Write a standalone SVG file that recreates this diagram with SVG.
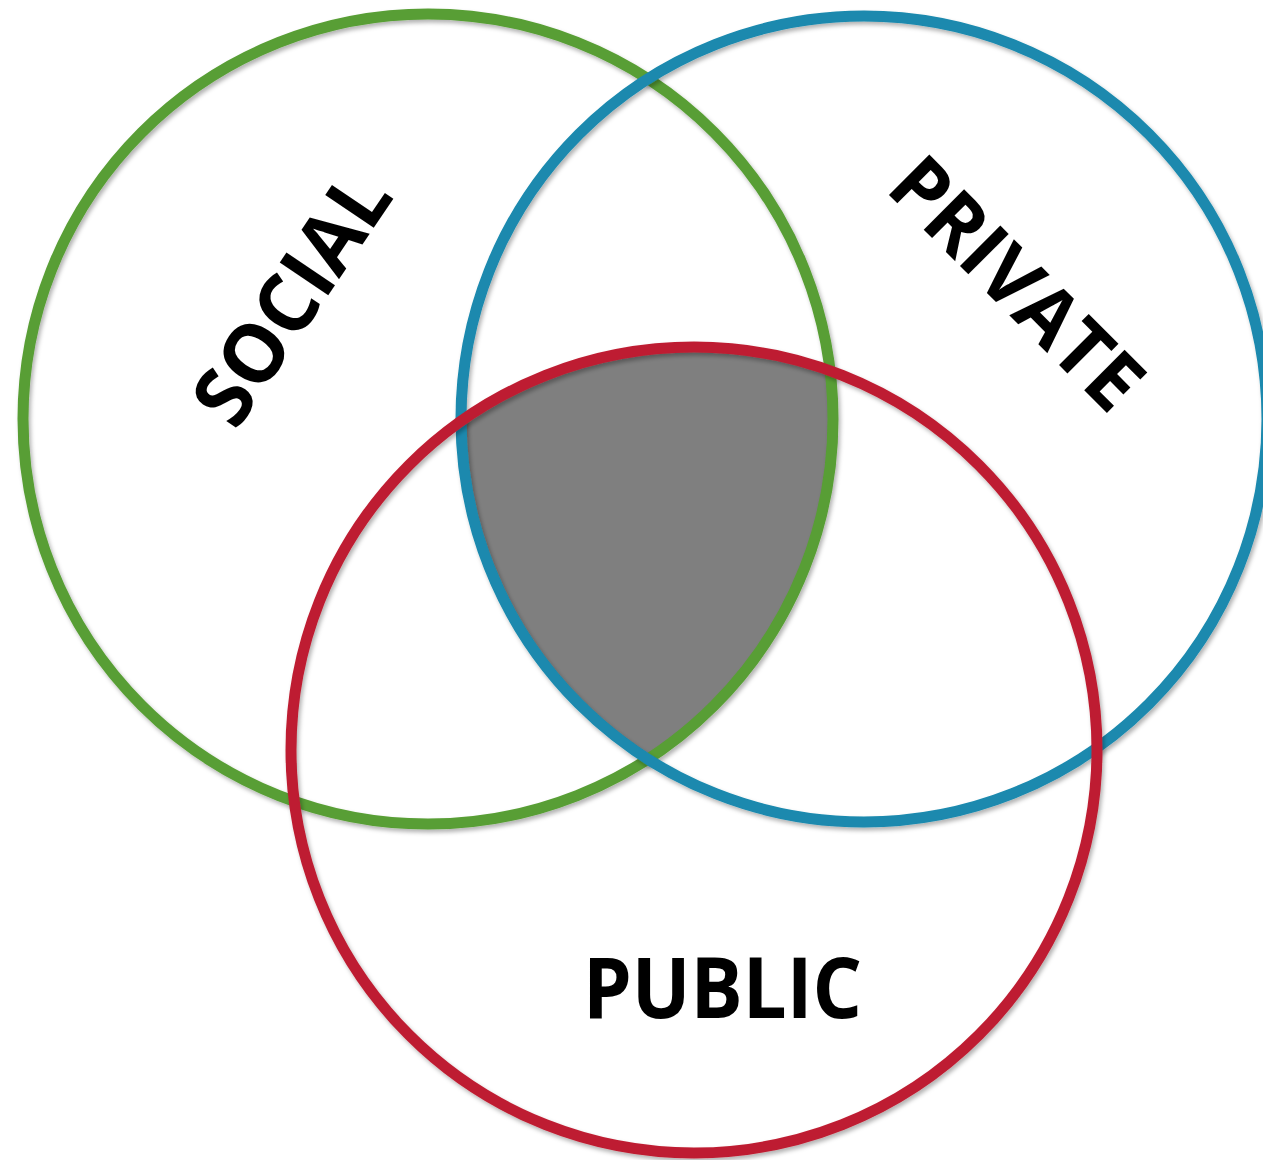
<svg xmlns="http://www.w3.org/2000/svg" width="1263" height="1160" viewBox="0 0 1263 1160">
<style>
.ring{fill:none;stroke-width:11;filter:url(#sh)}
.lbl{font-family:"Open Sans","Liberation Sans",sans-serif;font-weight:700;fill:#000}
</style>
<defs>
<filter id="sh" x="-10%" y="-10%" width="120%" height="120%">
<feDropShadow dx="2" dy="3" stdDeviation="2" flood-color="#000" flood-opacity="0.3"/>
</filter>
<clipPath id="cg"><circle cx="428" cy="419" r="405"/></clipPath>
<clipPath id="cb"><circle cx="864" cy="419" r="403"/></clipPath>
</defs>
<rect width="1263" height="1160" fill="#fff"/>
<g id="center">
<g clip-path="url(#cg)"><g clip-path="url(#cb)"><circle cx="694" cy="750" r="403" fill="#7f7f7f"/></g></g>
</g>
<g id="social"><circle class="ring" cx="428" cy="419" r="405" stroke="#589e35"/></g>
<g id="private"><circle class="ring" cx="864" cy="419" r="403" stroke="#1a89ae"/></g>
<g id="public"><circle class="ring" cx="694" cy="750" r="403" stroke="#be1f32"/></g>
<g id="labels">
<text class="lbl" font-size="82" transform="translate(236,432) rotate(-56)" textLength="284" lengthAdjust="spacingAndGlyphs">SOCIAL</text>
<text class="lbl" font-size="80" transform="translate(884,190) rotate(45)" textLength="320" lengthAdjust="spacingAndGlyphs">PRIVATE</text>
<text class="lbl" font-size="84" x="583" y="1018" textLength="279" lengthAdjust="spacingAndGlyphs">PUBLIC</text>
</g>
</svg>
